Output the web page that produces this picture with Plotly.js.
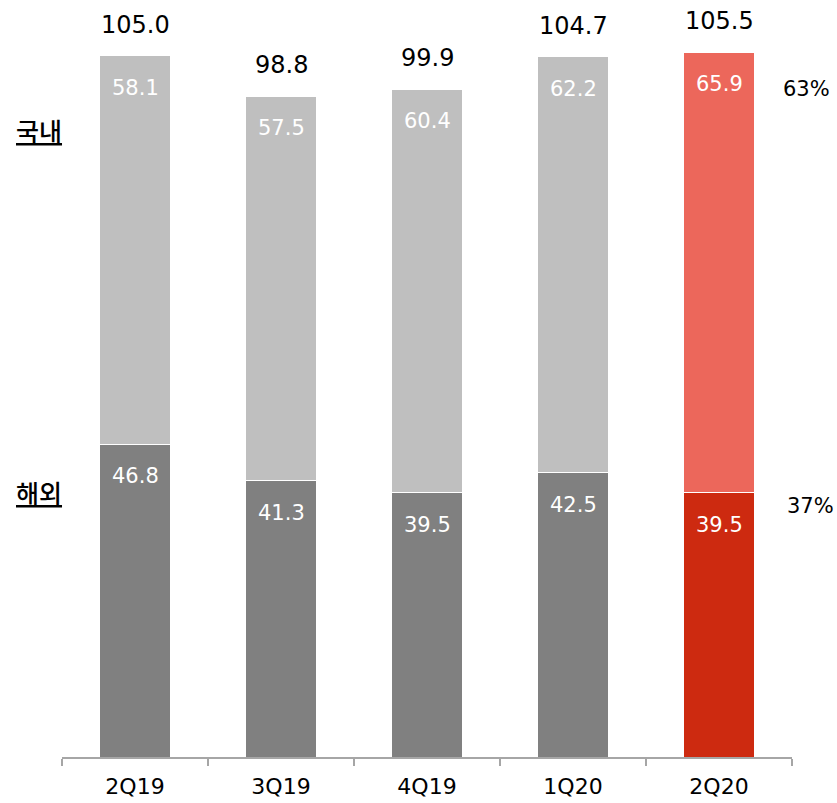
<!DOCTYPE html>
<html>
<head>
<meta charset="utf-8">
<script src="https://cdn.plot.ly/plotly-3.0.1.min.js"></script>
<style>html,body{margin:0;padding:0;background:#fff;}#chart{width:837px;height:803px;}</style>
</head>
<body>
<div id="chart"></div>
<script>
const categories = ['2Q19', '3Q19', '4Q19', '1Q20', '2Q20'];
const overseas = [46.8, 41.3, 39.5, 42.5, 39.5];   // 해외
const domestic = [58.1, 57.5, 60.4, 62.2, 65.9];   // 국내
const totals = [105.0, 98.8, 99.9, 104.7, 105.5];
const shareLabels = ['63%', '37%'];                  // 2Q20 국내 / 해외 share
const seriesNames = ['국내', '해외'];

const overseasColors = ['#808080', '#808080', '#808080', '#808080', '#CD2A10'];
const domesticColors = ['#BFBFBF', '#BFBFBF', '#BFBFBF', '#BFBFBF', '#EC675B'];

const NUMFONT = '"DejaVu Sans", "Noto Sans", sans-serif';
const KRFONT = '"Noto Sans CJK KR", "Noto Sans", sans-serif';

const traces = [
  {
    type: 'bar', name: seriesNames[1], x: categories, y: overseas,
    marker: {color: overseasColors, line: {color: '#FFFFFF', width: 1}},
    hoverinfo: 'skip'
  },
  {
    type: 'bar', name: seriesNames[0], x: categories, y: domestic,
    marker: {color: domesticColors, line: {color: '#FFFFFF', width: 1}},
    hoverinfo: 'skip'
  }
];

const annotations = [];
categories.forEach((c, i) => {
  annotations.push({
    x: c, y: overseas[i], xref: 'x', yref: 'y', text: overseas[i].toFixed(1),
    showarrow: false, yanchor: 'middle', yshift: -32,
    font: {family: NUMFONT, size: 21, color: '#FFFFFF'}
  });
  annotations.push({
    x: c, y: overseas[i] + domestic[i], xref: 'x', yref: 'y', text: domestic[i].toFixed(1),
    showarrow: false, yanchor: 'middle', yshift: -32,
    font: {family: NUMFONT, size: 21, color: '#FFFFFF'}
  });
  annotations.push({
    x: c, y: overseas[i] + domestic[i], xref: 'x', yref: 'y', text: totals[i].toFixed(1),
    showarrow: false, yanchor: 'middle', yshift: 31,
    font: {family: NUMFONT, size: 24, color: '#000000'}
  });
});
// series labels on the left
annotations.push({
  x: -0.031, y: 0.828, xref: 'paper', yref: 'paper', text: seriesNames[0],
  showarrow: false, xanchor: 'center', yanchor: 'middle',
  font: {family: KRFONT, size: 25, weight: 500, color: '#000000', lineposition: 'under'}
});
annotations.push({
  x: -0.031, y: 0.3495, xref: 'paper', yref: 'paper', text: seriesNames[1],
  showarrow: false, xanchor: 'center', yanchor: 'middle',
  font: {family: KRFONT, size: 25, weight: 500, color: '#000000', lineposition: 'under'}
});
// share labels on the right
annotations.push({
  x: 1.020, y: 0.882, xref: 'paper', yref: 'paper', text: shareLabels[0],
  showarrow: false, xanchor: 'center', yanchor: 'middle',
  font: {family: NUMFONT, size: 21, color: '#000000'}
});
annotations.push({
  x: 1.025, y: 0.3315, xref: 'paper', yref: 'paper', text: shareLabels[1],
  showarrow: false, xanchor: 'center', yanchor: 'middle',
  font: {family: NUMFONT, size: 21, color: '#000000'}
});

const layout = {
  width: 837, height: 803,
  margin: {l: 62, r: 45, t: 0, b: 46},
  paper_bgcolor: '#FFFFFF', plot_bgcolor: '#FFFFFF',
  barmode: 'stack', bargap: 0.514,
  showlegend: false,
  font: {family: NUMFONT, color: '#000000'},
  xaxis: {
    type: 'category', showline: true, linecolor: '#A6A6A6', linewidth: 1.5,
    ticks: 'outside', tickson: 'boundaries', ticklen: 7, tickcolor: '#A6A6A6', tickwidth: 1.5,
    ticklabelstandoff: 9,
    tickfont: {family: NUMFONT, size: 22, color: '#000000'},
    showgrid: false, zeroline: false, fixedrange: true
  },
  yaxis: {
    range: [0, 757 / 6.686], visible: false, showgrid: false, zeroline: false, fixedrange: true
  },
  annotations: annotations
};

Plotly.newPlot('chart', traces, layout, {displayModeBar: false, staticPlot: true});
</script>
</body>
</html>
